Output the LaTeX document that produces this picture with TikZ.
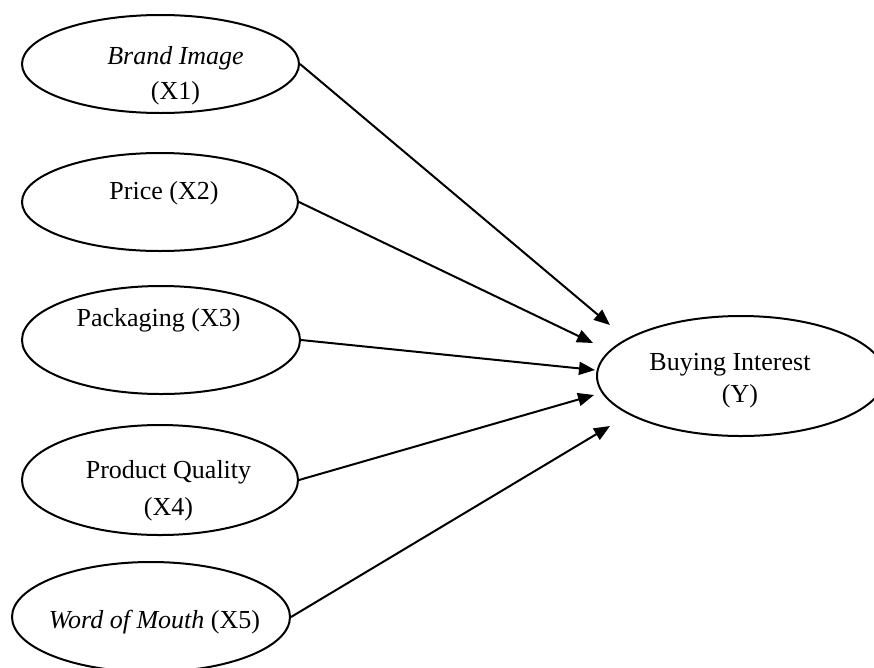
\documentclass[tikz,border=0pt]{standalone}
\usepackage{fontspec}
\setmainfont{Liberation Serif}
\usetikzlibrary{shapes.geometric,arrows.meta}
\begin{document}
\begin{tikzpicture}[x=1pt,y=-1pt,
  ell/.style={draw,ellipse,line width=2pt,inner sep=0pt},
  lbl/.style={anchor=base,inner sep=0pt,font=\fontsize{26}{30}\selectfont},
  arr/.style={line width=2pt,-{Triangle[length=16pt,width=13pt]}}]
\useasboundingbox (0,0) rectangle (874,667);
% ellipses
\node[ell,minimum width=277pt,minimum height=98pt] (e1) at (160.5,64) {};
\node[ell,minimum width=276pt,minimum height=98pt] (e2) at (160,202) {};
\node[ell,minimum width=278pt,minimum height=108pt] (e3) at (161,340) {};
\node[ell,minimum width=276pt,minimum height=110pt] (e4) at (160,480) {};
\node[ell,minimum width=278pt,minimum height=110pt] (e5) at (151,617) {};
\node[ell,minimum width=288pt,minimum height=120pt] (ey) at (741,376) {};
% labels
\node[lbl] (t1a) at (175.5,64) {\textit{Brand Image}};
\node[lbl] (t1b) at (175.5,99) {(X1)};
\node[lbl] (t2) at (164,199) {Price (X2)};
\node[lbl] (t3) at (158.5,326) {Packaging (X3)};
\node[lbl] (t4a) at (168.5,478) {Product Quality};
\node[lbl] (t4b) at (168.5,515) {(X4)};
\node[lbl] (t5) at (154.5,628) {\textit{Word of Mouth} (X5)};
\node[lbl] (tya) at (730,370) {Buying Interest};
\node[lbl] (tyb) at (740,402) {(Y)};
% arrow tips
\coordinate (p1) at (610,325);
\coordinate (p2) at (593,343);
\coordinate (p3) at (595,370);
\coordinate (p4) at (594,395);
\coordinate (p5) at (610,426);
\draw[arr] (e1.east) -- (p1);
\draw[arr] (e2.east) -- (p2);
\draw[arr] (e3.east) -- (p3);
\draw[arr] (e4.east) -- (p4);
\draw[arr] (e5.east) -- (p5);
\end{tikzpicture}
\end{document}
